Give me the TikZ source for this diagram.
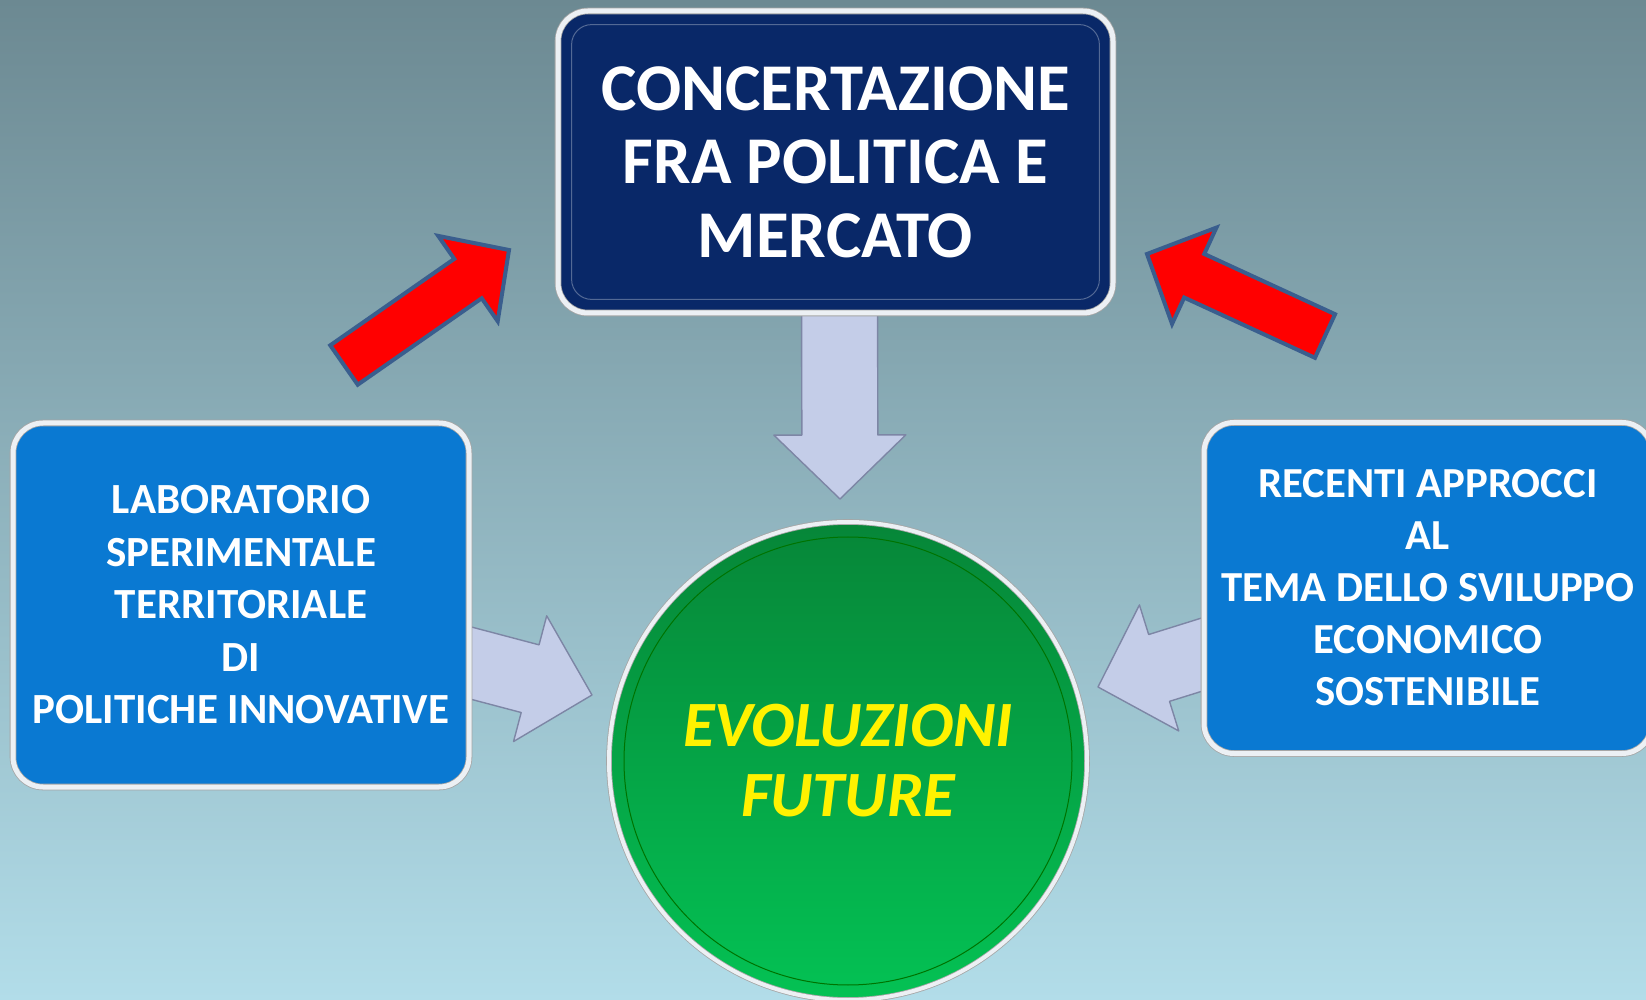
\documentclass[tikz,border=0pt]{standalone}
\usepackage{fontspec}
\setmainfont{Carlito}
\usetikzlibrary{calc}
\pgfdeclarelayer{background}
\pgfsetlayers{background,main}
\definecolor{bgtop}{RGB}{108,137,146}
\definecolor{bgbottom}{RGB}{178,221,233}
\definecolor{navy}{RGB}{9,40,104}
\definecolor{boxblue}{RGB}{10,121,210}
\definecolor{greentop}{RGB}{6,134,56}
\definecolor{greenbottom}{RGB}{4,194,84}
\definecolor{arrowfill}{RGB}{196,205,232}
\definecolor{arrowedge}{RGB}{125,134,165}
\definecolor{redline}{RGB}{58,94,142}
\definecolor{rim}{RGB}{236,240,244}

% block arrow: style, start, tip, shaft half width, head half width, head length
\newcommand{\blockarrow}[6]{%
  \coordinate (ba) at ($(#3)!#6!(#2)$);
  \draw[#1] ($(#2)!#4!90:(#3)$) -- ($(ba)!#4!90:(#3)$) -- ($(ba)!#5!90:(#3)$) -- (#3)
    -- ($(ba)!#5!-90:(#3)$) -- ($(ba)!#4!-90:(#3)$) -- ($(#2)!#4!-90:(#3)$) -- cycle;
}

\begin{document}
\begin{tikzpicture}[x=0.5pt,y=-0.5pt]
\tikzstyle{lelement}=[rectangle,rounded corners=15pt,draw=gray!70,double=rim,double distance=2.5pt,text=white,align=center,inner sep=0pt]
\tikzstyle{redarrow}=[fill=red,draw=redline,line width=2pt]
\tikzstyle{grayarrow}=[fill=arrowfill,draw=arrowedge,line width=0.7pt,line join=round]

\useasboundingbox (0,0) rectangle (1646,1000);
\clip (0,0) rectangle (1646,1000);

\node [lelement, fill=navy, minimum width=277.5pt, minimum height=151pt, font=\fontsize{33.4}{36.75}\selectfont\bfseries] (A) at (835.5,162) {CONCERTAZIONE\\FRA POLITICA E\\MERCATO};
\node [lelement, fill=boxblue, minimum width=228pt, minimum height=182pt, font=\fontsize{21.5}{26.25}\selectfont\bfseries] (B) at (241,605) {LABORATORIO\\SPERIMENTALE\\TERRITORIALE\\DI\\POLITICHE INNOVATIVE};
\node [lelement, fill=boxblue, minimum width=224pt, minimum height=165.5pt, font=\fontsize{21.4}{26}\selectfont\bfseries] (C) at (1428,588) {RECENTI APPROCCI\\AL\\TEMA DELLO SVILUPPO\\ECONOMICO\\SOSTENIBILE};
\node [circle, top color=greentop, bottom color=greenbottom, draw=gray!70, double=rim, double distance=2pt, minimum size=239pt, text=yellow, align=center, font=\fontsize{32.3}{35}\selectfont\bfseries\itshape] (D) at (848,761) {EVOLUZIONI\\FUTURE};

\draw[navy!70!white, line width=0.5pt, rounded corners=10pt] ([shift={(14,14)}]A.north west) rectangle ([shift={(-14,-14)}]A.south east);
\draw[green!45!black, line width=0.5pt] (D) circle (224);

\coordinate (r1s) at (344,365);
\coordinate (r1e) at (509,250);
\coordinate (r2s) at (1325,336);
\coordinate (r2e) at (1147,254);
\blockarrow{redarrow}{r1s}{r1e}{12pt}{26pt}{25pt}
\blockarrow{redarrow}{r2s}{r2e}{12pt}{26.5pt}{26pt}

\coordinate (ds) at ($(A.south)+(4,-30)$);
\coordinate (de) at (840,499);
\coordinate (bs) at ($(B.east)+(-29,50)$);
\coordinate (be) at (592,695);
\coordinate (cs) at ($(C.west)+(29,57)$);
\coordinate (ce) at (1098,687);

\begin{pgfonlayer}{background}
\fill[top color=bgtop, bottom color=bgbottom] (0,0) rectangle (1646,1000);
\blockarrow{grayarrow}{ds}{de}{19pt}{33pt}{32pt}
\blockarrow{grayarrow}{bs}{be}{17.5pt}{32.5pt}{32pt}
\blockarrow{grayarrow}{cs}{ce}{17.5pt}{33pt}{32pt}
\end{pgfonlayer}

\end{tikzpicture}
\end{document}
